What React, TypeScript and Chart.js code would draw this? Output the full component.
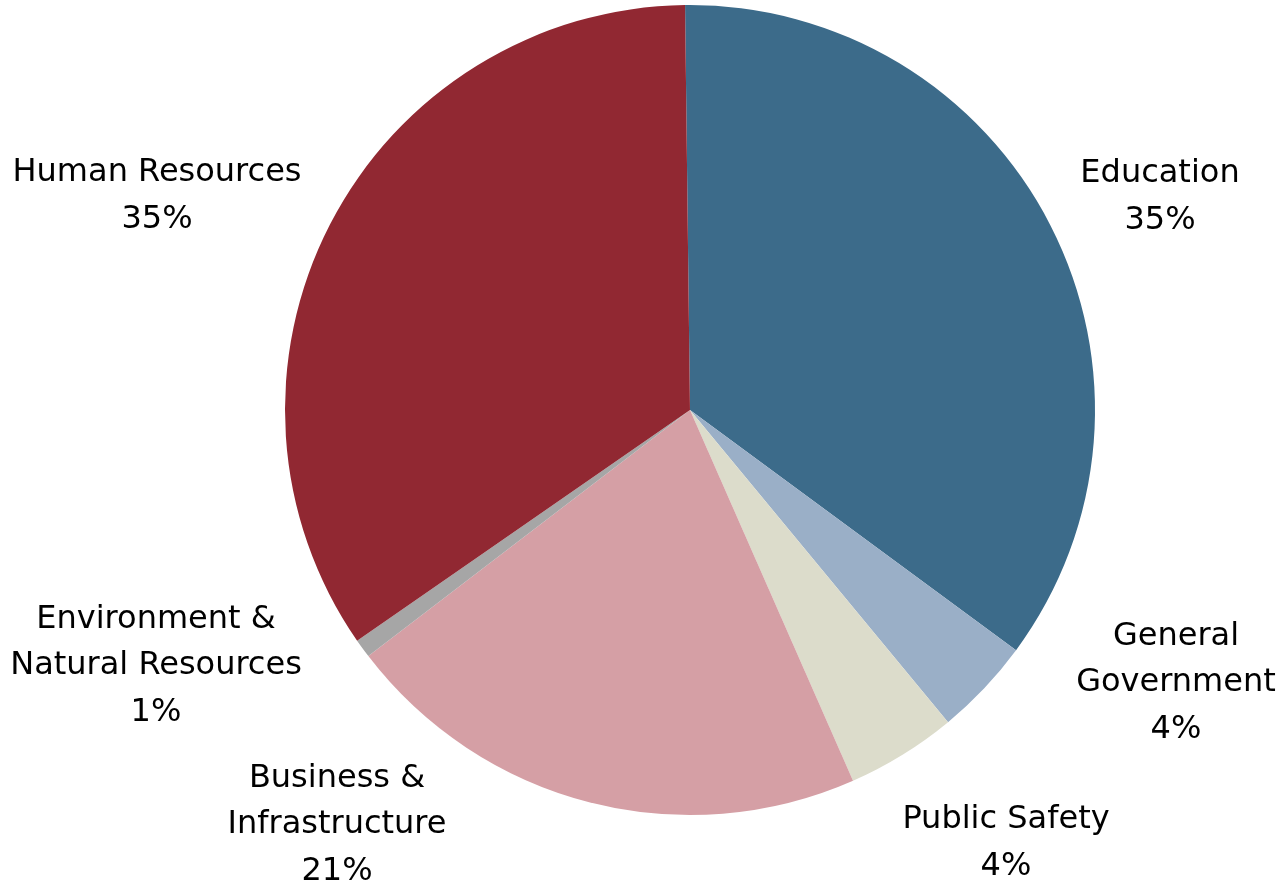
import React, { useEffect, useRef } from "react";
import { Chart, registerables } from "chart.js";

Chart.register(...registerables);

const categories = [
  "Education",
  "General Government",
  "Public Safety",
  "Business & Infrastructure",
  "Environment & Natural Resources",
  "Human Resources",
];
const values = [35.3, 3.9, 4.4, 21.2, 0.75, 34.45];
const percentLabels = ["35%", "4%", "4%", "21%", "1%", "35%"];
const labelLines = [
  ["Education"],
  ["General", "Government"],
  ["Public Safety"],
  ["Business &", "Infrastructure"],
  ["Environment &", "Natural Resources"],
  ["Human Resources"],
];
const colors = ["#3C6B8A", "#9AAFC7", "#DCDCCB", "#D59FA5", "#A6A6A6", "#912832"];

// label block centres, relative to pie centre (px)
const labelOffsets = [
  [470, -213],
  [486, 273],
  [316, 433],
  [-353, 415],
  [-534, 256],
  [-533, -214],
];

const labelPlugin = {
  id: "outerLabels",
  afterDraw(chart: any) {
    const ctx = chart.ctx;
    const meta = chart.getDatasetMeta(0);
    const arc0 = meta.data[0];
    const cx = arc0.x;
    const cy = arc0.y;
    ctx.save();
    ctx.font = '32px "DejaVu Sans", sans-serif';
    ctx.fillStyle = "#000";
    ctx.textAlign = "center";
    ctx.textBaseline = "middle";
    const lh = 46.5;
    categories.forEach((_, i) => {
      const lines = [...labelLines[i], percentLabels[i]];
      const [ox, oy] = labelOffsets[i];
      const x = cx + ox;
      const y0 = cy + oy - ((lines.length - 1) * lh) / 2;
      lines.forEach((t, j) => ctx.fillText(t, x, y0 + j * lh));
    });
    ctx.restore();
  },
};

export default function App() {
  const ref = useRef<HTMLCanvasElement>(null);
  useEffect(() => {
    const chart = new Chart(ref.current!, {
      type: "pie",
      data: {
        labels: categories,
        datasets: [
          {
            data: values,
            backgroundColor: colors,
            borderWidth: 0,
          },
        ],
      },
      options: {
        animation: false,
        responsive: false,
        rotation: -0.7,
        layout: { padding: { left: 285, right: 188, top: 5, bottom: 70 } },
        plugins: { legend: { display: false }, tooltip: { enabled: false } },
      },
      plugins: [labelPlugin],
    });
    return () => chart.destroy();
  }, []);
  return (
    <div style={{ position: "absolute", left: 0, top: 0, width: 1283, height: 885, background: "#fff" }}>
      <canvas ref={ref} width={1283} height={885} style={{ width: 1283, height: 885 }} />
    </div>
  );
}
